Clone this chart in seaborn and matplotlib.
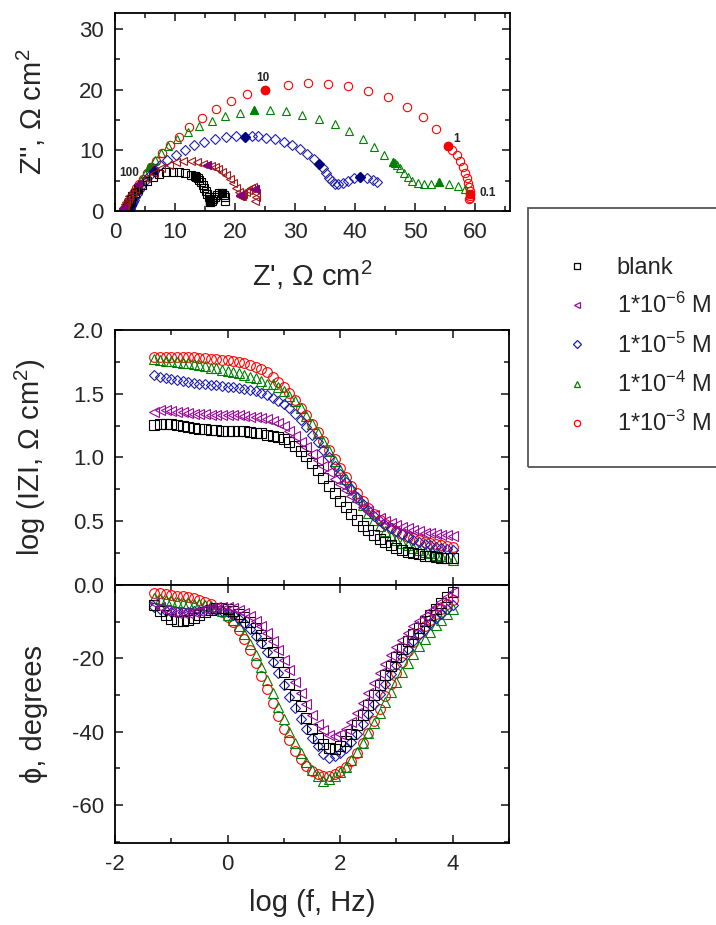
import numpy as np
import seaborn as sns
import matplotlib.pyplot as plt
from matplotlib.lines import Line2D
from matplotlib.patches import Rectangle
from matplotlib.ticker import MultipleLocator

# --- dados (log f de -1.3 a 4.0, passo 0.1) ---
log_f = [-1.3, -1.2, -1.1, -1.0, -0.9, -0.8, -0.7, -0.6, -0.5, -0.4, -0.3, -0.2, -0.1,
         0.0, 0.1, 0.2, 0.3, 0.4, 0.5, 0.6, 0.7, 0.8, 0.9,
         1.0, 1.1, 1.2, 1.3, 1.4, 1.5, 1.6, 1.7, 1.8, 1.9,
         2.0, 2.1, 2.2, 2.3, 2.4, 2.5, 2.6, 2.7, 2.8, 2.9,
         3.0, 3.1, 3.2, 3.3, 3.4, 3.5, 3.6, 3.7, 3.8, 3.9, 4.0]

labels = ['blank', '1*10$^{-6}$ M', '1*10$^{-5}$ M', '1*10$^{-4}$ M', '1*10$^{-3}$ M']

# log |Z|
logz_blank = [1.255, 1.26, 1.26, 1.26, 1.255, 1.25, 1.24, 1.235, 1.225, 1.22, 1.215, 1.215, 1.21,
              1.21, 1.21, 1.21, 1.205, 1.20, 1.195, 1.19, 1.18, 1.17, 1.16,
              1.145, 1.12, 1.09, 1.05, 1.01, 0.96, 0.90, 0.84, 0.78, 0.72,
              0.66, 0.61, 0.56, 0.51, 0.465, 0.43, 0.39, 0.36, 0.335, 0.31,
              0.29, 0.275, 0.26, 0.25, 0.24, 0.23, 0.225, 0.22, 0.215, 0.21, 0.21]
logz_e6 = [1.36, 1.37, 1.37, 1.365, 1.36, 1.355, 1.35, 1.345, 1.34, 1.34, 1.335, 1.335, 1.33,
           1.33, 1.33, 1.33, 1.325, 1.32, 1.315, 1.31, 1.30, 1.29, 1.27,
           1.245, 1.21, 1.17, 1.125, 1.08, 1.03, 0.98, 0.93, 0.885, 0.835,
           0.79, 0.745, 0.70, 0.655, 0.615, 0.58, 0.55, 0.525, 0.505, 0.485,
           0.47, 0.455, 0.445, 0.43, 0.42, 0.41, 0.405, 0.40, 0.395, 0.39, 0.385]
logz_e5 = [1.645, 1.635, 1.625, 1.615, 1.605, 1.60, 1.59, 1.585, 1.58, 1.575, 1.57, 1.565, 1.56,
           1.555, 1.55, 1.545, 1.54, 1.53, 1.52, 1.505, 1.49, 1.47, 1.445,
           1.42, 1.385, 1.345, 1.295, 1.24, 1.18, 1.12, 1.06, 1.0, 0.935,
           0.87, 0.81, 0.75, 0.69, 0.635, 0.585, 0.54, 0.505, 0.47, 0.445,
           0.42, 0.40, 0.375, 0.355, 0.34, 0.325, 0.31, 0.30, 0.29, 0.28, 0.275]
logz_e4 = [1.77, 1.765, 1.76, 1.755, 1.75, 1.745, 1.74, 1.735, 1.725, 1.715, 1.705, 1.70, 1.69,
           1.68, 1.67, 1.66, 1.645, 1.635, 1.62, 1.60, 1.58, 1.575, 1.55,
           1.52, 1.485, 1.44, 1.385, 1.325, 1.26, 1.19, 1.12, 1.05, 0.975,
           0.90, 0.83, 0.76, 0.69, 0.625, 0.565, 0.51, 0.46, 0.42, 0.385,
           0.355, 0.33, 0.31, 0.29, 0.275, 0.26, 0.25, 0.235, 0.225, 0.21, 0.20]
logz_e3 = [1.79, 1.79, 1.79, 1.79, 1.79, 1.79, 1.785, 1.785, 1.78, 1.78, 1.775, 1.77, 1.765,
           1.765, 1.76, 1.75, 1.74, 1.725, 1.71, 1.695, 1.67, 1.635, 1.595,
           1.55, 1.505, 1.45, 1.39, 1.33, 1.265, 1.20, 1.13, 1.06, 0.99,
           0.92, 0.85, 0.78, 0.72, 0.66, 0.605, 0.555, 0.51, 0.475, 0.445,
           0.42, 0.40, 0.38, 0.365, 0.35, 0.34, 0.33, 0.32, 0.31, 0.305, 0.30]

# fase, graus
phi_blank = [-5.5, -7.0, -8.3, -9.3, -9.8, -9.9, -9.6, -9.0, -8.2, -7.4, -6.8, -6.4, -6.3,
             -6.5, -7.0, -7.8, -8.8, -10.1, -11.7, -13.6, -15.8, -18.2, -20.9,
             -23.8, -26.9, -30.0, -33.1, -36.4, -39.4, -41.8, -43.5, -44.5, -44.7,
             -44.0, -42.6, -40.6, -38.2, -35.6, -32.8, -30.0, -27.3, -24.6, -22.0,
             -19.6, -17.4, -15.3, -13.4, -11.6, -9.9, -8.3, -6.5, -4.8, -3.2, -2.0]
phi_e6 = [-5.0, -6.0, -6.8, -7.3, -7.6, -7.7, -7.6, -7.3, -7.0, -6.6, -6.3, -6.1, -6.0,
          -6.1, -6.4, -6.9, -7.6, -8.5, -9.7, -11.2, -13.0, -15.2, -17.7,
          -20.4, -23.3, -26.4, -29.5, -32.6, -35.4, -37.8, -39.6, -40.8, -41.2,
          -40.7, -39.4, -37.5, -35.0, -32.3, -29.5, -26.7, -24.0, -21.5, -19.1,
          -16.9, -14.9, -13.0, -11.3, -9.8, -8.4, -7.1, -5.9, -4.6, -3.2, -2.0]
phi_e5 = [-5.9, -6.5, -7.0, -7.3, -7.5, -7.5, -7.4, -7.2, -7.0, -6.8, -6.7, -6.7, -7.0,
          -7.5, -8.3, -9.3, -10.5, -12.0, -13.8, -15.9, -18.3, -21.0, -24.0,
          -27.2, -30.5, -33.6, -36.6, -39.3, -41.8, -44.0, -46.0, -47.2, -46.6,
          -45.9, -44.6, -42.8, -40.6, -38.0, -35.3, -32.5, -29.7, -27.0, -24.4,
          -21.9, -19.6, -17.4, -15.4, -13.6, -12.0, -10.5, -9.1, -7.8, -6.6, -5.4]
phi_e4 = [-3.6, -3.9, -4.2, -4.5, -4.7, -4.9, -5.0, -5.1, -5.2, -5.4, -5.7, -6.2, -7.0,
          -8.1, -9.5, -11.3, -13.5, -16.2, -19.2, -22.5, -26.0, -29.6, -33.2,
          -36.7, -40.0, -43.1, -45.9, -48.3, -50.4, -52.1, -53.6, -53.0, -52.2,
          -51.1, -49.6, -47.7, -45.5, -43.0, -40.4, -37.6, -34.8, -32.0, -29.2,
          -26.5, -23.8, -21.2, -18.8, -16.6, -14.6, -12.7, -11.0, -9.5, -8.0, -6.6]
phi_e3 = [-2.1, -2.3, -2.5, -2.7, -2.9, -3.1, -3.3, -3.6, -4.0, -4.6, -5.3, -6.2, -7.3,
          -8.6, -10.2, -12.2, -14.8, -17.8, -21.2, -24.8, -28.5, -32.2, -35.8,
          -39.2, -42.4, -45.2, -47.6, -49.4, -50.7, -51.5, -52.0, -52.0, -51.6,
          -50.8, -49.6, -47.9, -45.8, -43.2, -40.3, -37.1, -33.8, -30.4, -27.1,
          -23.9, -20.9, -18.1, -15.5, -13.2, -11.2, -9.5, -8.0, -6.6, -5.3, -4.0]

# Nyquist: Z' e Z'' (ohm cm2)
zre_blank = [18.3, 18.3, 18.1, 17.8, 17.4, 17.0, 16.6, 16.3, 16.1, 15.9, 15.8, 15.8, 15.8,
             15.8, 15.6, 15.4, 15.2, 14.9, 14.6, 14.3, 14.0, 13.8, 13.5,
             13.3, 12.6, 11.7, 10.7, 9.6, 8.5, 7.4, 6.3, 5.3, 4.5,
             3.8, 3.3, 2.9, 2.6, 2.4, 2.2, 2.1, 2.0, 1.9, 1.85,
             1.8, 1.75, 1.7, 1.7, 1.65, 1.65, 1.6, 1.6, 1.6, 1.6, 1.6]
zim_blank = [1.7, 2.3, 2.7, 2.9, 2.9, 2.7, 2.3, 1.9, 1.6, 1.5, 1.5, 1.6, 1.7,
             1.8, 2.3, 2.8, 3.3, 3.8, 4.3, 4.7, 5.1, 5.4, 5.6,
             5.7, 6.0, 6.3, 6.5, 6.5, 6.4, 6.1, 5.6, 5.0, 4.3,
             3.6, 3.0, 2.4, 1.9, 1.5, 1.15, 0.9, 0.7, 0.55, 0.43,
             0.34, 0.27, 0.21, 0.17, 0.13, 0.1, 0.08, 0.06, 0.05, 0.04, 0.03]
zre_e6 = [23.4, 23.5, 23.5, 23.3, 23.0, 22.6, 22.2, 21.8, 21.4, 21.2, 21.0, 20.9, 20.9,
          20.9, 20.6, 20.2, 19.7, 19.1, 18.5, 17.9, 17.2, 16.6, 16.0,
          15.4, 14.6, 13.6, 12.6, 11.4, 10.2, 9.0, 7.7, 6.5, 5.2,
          3.9, 3.3, 2.8, 2.4, 2.1, 1.9, 1.7, 1.6, 1.5, 1.45,
          1.4, 1.35, 1.3, 1.3, 1.25, 1.25, 1.2, 1.2, 1.2, 1.2, 1.2]
zim_e6 = [1.6, 2.3, 3.0, 3.7, 3.9, 3.8, 3.5, 3.1, 2.8, 2.5, 2.4, 2.4, 2.5,
          2.6, 3.1, 3.8, 4.6, 5.3, 6.0, 6.5, 6.9, 7.2, 7.4,
          7.5, 7.8, 8.1, 8.2, 8.2, 8.0, 7.6, 7.0, 6.3, 5.4,
          4.4, 3.7, 3.0, 2.4, 1.9, 1.5, 1.15, 0.9, 0.7, 0.55,
          0.45, 0.35, 0.28, 0.22, 0.17, 0.13, 0.1, 0.08, 0.06, 0.05, 0.05]
zre_e5 = [43.6, 42.9, 42.0, 40.8, 39.8, 38.8, 37.9, 37.2, 36.6, 36.1, 35.6, 35.1, 34.6,
          34.0, 33.1, 32.0, 30.8, 29.5, 28.1, 26.6, 25.2, 23.9, 22.8,
          21.7, 20.2, 18.5, 16.7, 14.9, 13.2, 11.6, 10.1, 8.7, 7.5,
          6.5, 5.7, 5.0, 4.4, 4.0, 3.6, 3.3, 3.1, 2.95, 2.8,
          2.7, 2.6, 2.55, 2.5, 2.45, 2.4, 2.4, 2.35, 2.35, 2.3, 2.3]
zim_e5 = [4.7, 5.1, 5.4, 5.6, 5.4, 5.0, 4.6, 4.4, 4.5, 4.9, 5.5, 6.2, 7.0,
          7.8, 8.6, 9.4, 10.2, 10.9, 11.4, 11.8, 12.1, 12.3, 12.3,
          12.2, 12.3, 12.2, 11.9, 11.4, 10.8, 10.1, 9.3, 8.4, 7.5,
          6.6, 5.7, 4.9, 4.1, 3.4, 2.8, 2.3, 1.85, 1.5, 1.2,
          0.95, 0.75, 0.6, 0.48, 0.38, 0.3, 0.24, 0.19, 0.15, 0.12, 0.1]
zre_e4 = [58.3, 57.2, 55.6, 54.0, 52.6, 51.4, 50.4, 49.5, 48.8, 48.1, 47.5, 47.0, 46.6,
          46.3, 44.8, 43.2, 41.3, 39.0, 36.6, 33.9, 31.2, 28.5, 25.8,
          23.2, 20.8, 18.4, 16.1, 14.0, 12.1, 10.4, 8.9, 7.6, 6.6,
          5.7, 5.0, 4.4, 3.9, 3.5, 3.2, 2.9, 2.7, 2.5, 2.4,
          2.3, 2.2, 2.15, 2.1, 2.05, 2.0, 2.0, 1.95, 1.95, 1.9, 1.9]
zim_e4 = [3.7, 4.1, 4.4, 4.7, 4.5, 4.5, 4.6, 5.0, 5.6, 6.3, 7.0, 7.5, 7.9,
          8.1, 9.2, 10.5, 11.9, 13.2, 14.3, 15.1, 15.8, 16.4, 16.7,
          16.6, 16.2, 15.6, 14.9, 14.0, 13.0, 11.9, 10.7, 9.5, 8.4,
          7.2, 6.1, 5.1, 4.2, 3.4, 2.7, 2.1, 1.65, 1.3, 1.0,
          0.8, 0.62, 0.5, 0.4, 0.32, 0.25, 0.2, 0.16, 0.13, 0.1, 0.08]
zre_e3 = [59.0, 59.1, 59.2, 59.2, 59.1, 59.0, 58.8, 58.6, 58.3, 57.9, 57.4, 56.9, 56.2,
          55.5, 53.5, 51.3, 48.6, 45.5, 42.2, 38.8, 35.5, 32.2, 28.8,
          25.0, 22.0, 19.3, 16.8, 14.5, 12.4, 10.6, 9.1, 7.8, 6.8,
          6.0, 5.3, 4.6, 4.0, 3.5, 3.1, 2.8, 2.6, 2.4, 2.3,
          2.2, 2.1, 2.05, 2.0, 1.95, 1.9, 1.9, 1.85, 1.85, 1.8, 1.8]
zim_e3 = [1.9, 2.2, 2.5, 2.8, 3.3, 3.9, 4.6, 5.4, 6.3, 7.3, 8.3, 9.2, 10.0,
          10.7, 13.5, 15.4, 17.2, 18.7, 19.8, 20.5, 20.9, 21.0, 20.7,
          20.0, 19.2, 18.1, 16.8, 15.3, 13.8, 12.2, 10.8, 9.5, 8.3,
          7.2, 6.2, 5.3, 4.5, 3.8, 3.2, 2.6, 2.1, 1.7, 1.3,
          1.05, 0.85, 0.7, 0.55, 0.45, 0.35, 0.28, 0.22, 0.17, 0.13, 0.1]

# frequencias marcadas com simbolo cheio no Nyquist (decadas)
marked_logf = [-1.0, 0.0, 1.0, 2.0, 3.0]
freq_labels = [('100', 0.7, 6.3, 'left'), ('10', 24.6, 21.9, 'center'),
               ('1', 56.3, 11.9, 'left'), ('0.1', 60.8, 2.9, 'left')]

series = [  # ordem de desenho: vermelho por baixo, roxo por cima
    (4, zre_e3, zim_e3, logz_e3, phi_e3, 'o', '#FF0000', '#FF0000', '#FF0000'),
    (3, zre_e4, zim_e4, logz_e4, phi_e4, '^', '#008000', '#008000', '#008000'),
    (2, zre_e5, zim_e5, logz_e5, phi_e5, 'D', '#1F1FB0', '#1F1FB0', '#000080'),
    (0, zre_blank, zim_blank, logz_blank, phi_blank, 's', '#000000', '#000000', '#000000'),
    (1, zre_e6, zim_e6, logz_e6, phi_e6, '<', '#9A0A9A', '#A01818', '#800080'),
]

sns.set_style('ticks')
plt.rcParams['font.family'] = ['Liberation Sans', 'DejaVu Sans']
plt.rcParams['mathtext.fontset'] = 'custom'
plt.rcParams['mathtext.rm'] = 'Liberation Sans'
plt.rcParams['mathtext.it'] = 'Liberation Sans:italic'
plt.rcParams['axes.unicode_minus'] = False

fig = plt.figure(figsize=(7.16, 9.25), dpi=100)
ax_ny = fig.add_axes([115 / 716, 1 - 211 / 925, 395 / 716, 198 / 925])
ax_z = fig.add_axes([115 / 716, 1 - 585 / 925, 394 / 716, 255 / 925])
ax_p = fig.add_axes([115 / 716, 1 - 843 / 925, 394 / 716, 258 / 925])

mask = np.isin(np.round(log_f, 1), marked_logf)
for idx, zre, zim, logz, phi, mk, c_bode, c_ny, c_fill in series:
    k = 0.8 if mk == 'D' else 1.0
    common = dict(marker=mk, linestyle='', estimator=None, sort=False, legend=False,
                  markerfacecolor='none', markeredgewidth=0.8)
    sns.lineplot(x=zre, y=zim, ax=ax_ny, color=c_ny, markeredgecolor=c_ny,
                 markersize=6.0 * k, **common)
    sns.lineplot(x=np.array(zre)[mask], y=np.array(zim)[mask], ax=ax_ny, marker=mk,
                 linestyle='', estimator=None, sort=False, legend=False,
                 color=c_fill, markerfacecolor=c_fill, markeredgecolor=c_fill,
                 markersize=6.0 * k, markeredgewidth=0.8)
    sns.lineplot(x=log_f, y=logz, ax=ax_z, color=c_bode, markeredgecolor=c_bode,
                 markersize=7.0 * k, **common)
    sns.lineplot(x=log_f, y=phi, ax=ax_p, color=c_bode, markeredgecolor=c_bode,
                 markersize=7.0 * k, **common)

for txt, xx, yy, ha in freq_labels:
    ax_ny.text(xx, yy, txt, fontsize=8.5, fontweight='bold', ha=ha, va='center')

tick_kw = dict(direction='in', top=True, right=True, labelsize=16, width=1.2)
for ax in (ax_ny, ax_z, ax_p):
    ax.tick_params(which='major', length=6, pad=8, **tick_kw)
    ax.tick_params(which='minor', length=3.5, **tick_kw)
    for sp in ax.spines.values():
        sp.set_linewidth(1.3)
        sp.set_color('black')

lab_fs = 21
ax_ny.set_xlim(0, 65.8)
ax_ny.set_ylim(0, 32.6)
ax_ny.set_xticks([0, 10, 20, 30, 40, 50, 60])
ax_ny.set_yticks([0, 10, 20, 30])
ax_ny.xaxis.set_minor_locator(MultipleLocator(5))
ax_ny.yaxis.set_minor_locator(MultipleLocator(5))
ax_ny.set_xlabel("Z', Ω cm$^2$", fontsize=lab_fs)
ax_ny.set_ylabel("Z'', Ω cm$^2$", fontsize=lab_fs)
ax_ny.xaxis.set_label_coords(0.5, -0.24)
ax_ny.yaxis.set_label_coords(-0.17, 0.5)

ax_z.set_xlim(-2, 5)
ax_z.set_ylim(0, 2.0)
ax_z.set_xticks([-2, 0, 2, 4])
ax_z.set_xticklabels([])
ax_z.xaxis.set_minor_locator(MultipleLocator(1))
ax_z.set_yticks([0, 0.5, 1.0, 1.5, 2.0])
ax_z.set_yticklabels(['0.0', '0.5', '1.0', '1.5', '2.0'])
ax_z.yaxis.set_minor_locator(MultipleLocator(0.25))
ax_z.set_xlabel('')
ax_z.set_ylabel('log (IZI, Ω cm$^2$)', fontsize=lab_fs)
ax_z.yaxis.set_label_coords(-0.17, 0.5)

ax_p.set_xlim(-2, 5)
ax_p.set_ylim(-70.4, 0)
ax_p.set_xticks([-2, 0, 2, 4])
ax_p.xaxis.set_minor_locator(MultipleLocator(1))
ax_p.set_yticks([-60, -40, -20, 0])
ax_p.set_yticklabels(['-60', '-40', '-20', ''])
ax_p.yaxis.set_minor_locator(MultipleLocator(10))
ax_p.set_xlabel('log (f, Hz)', fontsize=lab_fs)
ax_p.set_ylabel('ϕ, degrees', fontsize=lab_fs)
ax_p.xaxis.set_label_coords(0.5, -0.18)
ax_p.yaxis.set_label_coords(-0.17, 0.5)

# legenda
leg_order = [(0, 's', '#000000'), (1, '<', '#9A0A9A'), (2, 'D', '#1F1FB0'),
             (3, '^', '#008000'), (4, 'o', '#FF0000')]
handles = [Line2D([], [], marker=mk, linestyle='', markerfacecolor='none', markeredgecolor=c,
                  markersize=4.5 * (0.8 if mk == 'D' else 1.0), markeredgewidth=0.9)
           for _, mk, c in leg_order]
fig.legend(handles, [labels[i] for i, _, _ in leg_order], loc='upper left',
           bbox_to_anchor=(553 / 716, 1 - 245 / 925), frameon=False, fontsize=17,
           labelspacing=0.6, handlelength=1.0, handletextpad=1.2, borderpad=0)
fig.patches.append(Rectangle((528 / 716, 1 - 467 / 925), 0.3, 259 / 925, transform=fig.transFigure,
                             fill=False, edgecolor='#555555', linewidth=1.3, clip_on=False))

fig.savefig('out.png', dpi=100)
